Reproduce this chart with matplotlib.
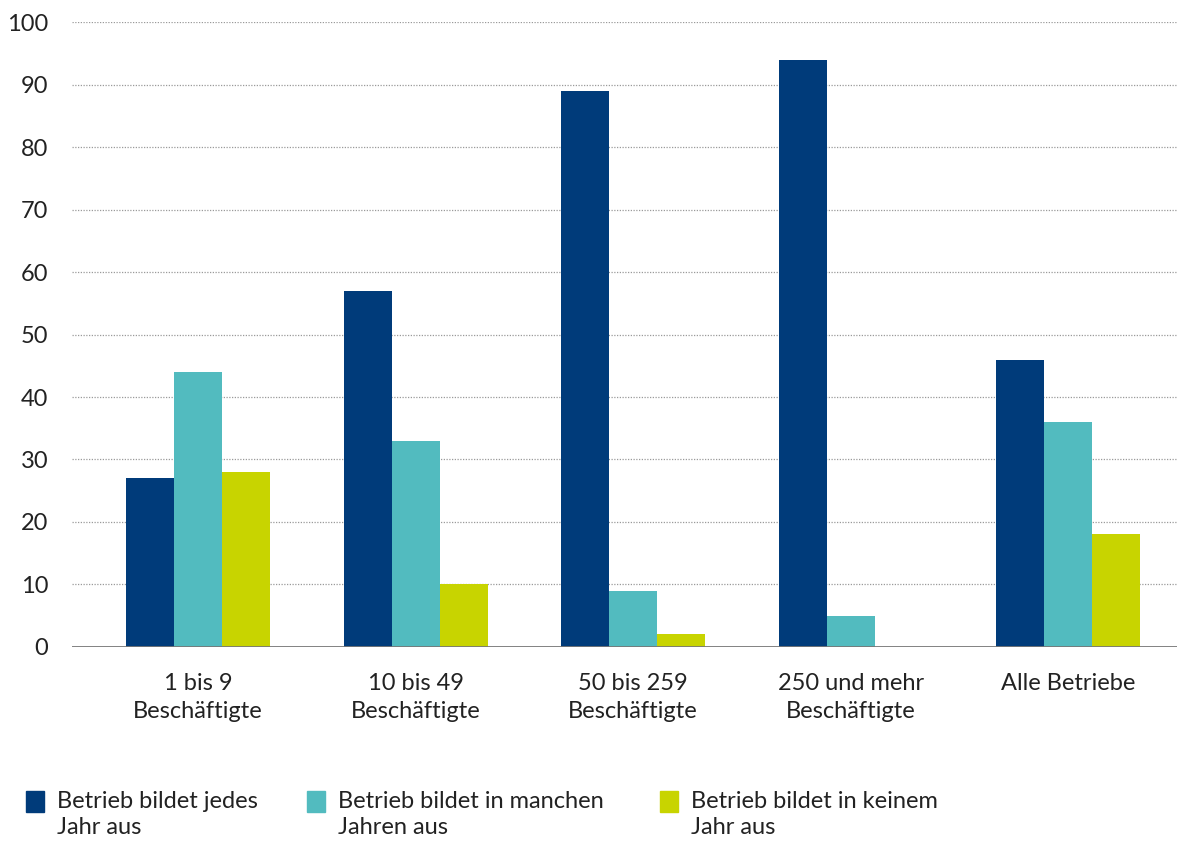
import numpy as np
import matplotlib.pyplot as plt
from matplotlib.patches import Rectangle

# Anteil der Betriebe nach Betriebsgröße (in %)
categories = ["1 bis 9\nBeschäftigte", "10 bis 49\nBeschäftigte", "50 bis 259\nBeschäftigte",
              "250 und mehr\nBeschäftigte", "Alle Betriebe"]
jedes_jahr = [27, 57, 89, 94, 46]
manchen_jahren = [44, 33, 9, 5, 36]
keinem_jahr = [28, 10, 2, 0, 18]

series_labels = ["Betrieb bildet jedes\nJahr aus",
                 "Betrieb bildet in manchen\nJahren aus",
                 "Betrieb bildet in keinem\nJahr aus"]
colors = ["#003B7A", "#52BBBF", "#C8D400"]

plt.rcParams['font.family'] = ['Lato', 'DejaVu Sans']
fs = 17

fig = plt.figure(figsize=(11.77, 8.41), dpi=100)
ax = fig.add_axes([0.0612, 0.2307, 0.9388, 0.7431])

x = np.arange(len(categories))
w = 0.221
for i, (vals, c) in enumerate(zip([jedes_jahr, manchen_jahren, keinem_jahr], colors)):
    ax.bar(x + (i - 1) * w, vals, width=w, color=c, zorder=3)

ax.set_xlim(-0.58, 4.50)
ax.set_ylim(0, 100)
ax.set_yticks(np.arange(0, 101, 10))
ax.set_xticks(x)
ax.set_xticklabels(categories, fontsize=fs, color="#222222", linespacing=1.4)
ax.tick_params(axis='y', length=0, pad=17, labelsize=fs, labelcolor="#222222")
ax.tick_params(axis='x', length=0, pad=19)

for y in range(10, 101, 10):
    ax.axhline(y, color="#9a9a9a", linewidth=0.9, linestyle=(0, (1, 1.2)), zorder=1)
ax.axhline(0, color="#777777", linewidth=2, zorder=4)

for s in ax.spines.values():
    s.set_visible(False)

# legend below the chart
leg_x = [26, 307, 660]
for lx, lab, c in zip(leg_x, series_labels, colors):
    fig.add_artist(Rectangle((lx / 1177, 1 - 812 / 841), 18 / 1177, 21 / 841,
                             transform=fig.transFigure, color=c))
    fig.text((lx + 31) / 1177, 1 - 791 / 841, lab, fontsize=fs, color="#222222",
             va='top', ha='left', linespacing=1.3)

fig.savefig("out.png", dpi=100)
